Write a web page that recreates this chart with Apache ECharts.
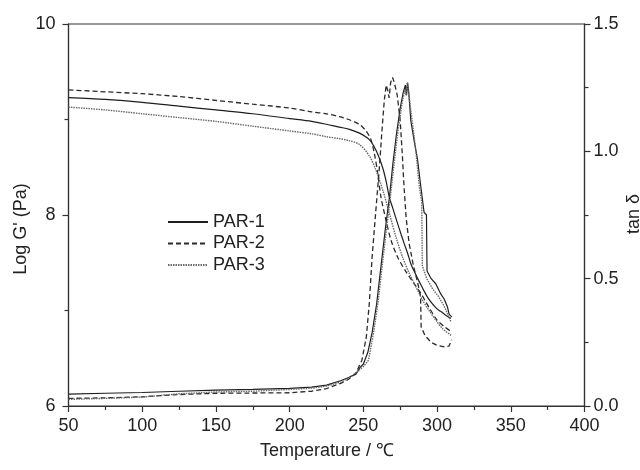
<!DOCTYPE html>
<html>
<head>
<meta charset="utf-8">
<script src="https://cdn.jsdelivr.net/npm/echarts@6/dist/echarts.min.js"></script>
<style>html,body{margin:0;padding:0;background:#fff;}#c{width:640px;height:470px;}</style>
</head>
<body>
<div id="c"></div>
<script>
// ---- data ----
const seriesNames = ['PAR-1', 'PAR-2', 'PAR-3'];
const xTicks = [50, 100, 150, 200, 250, 300, 350, 400];

// Storage modulus, log G' (Pa) – left axis
const tempG1 = [50,75,100,125,150,175,200,215,225,233.7,240,247,254,258.5,263,265.5,267.7,270,272,274.5,277.7,280,282.2,284.5,286.7,289,291.3,293.5,295.8,298.5,301.4,303.5,305.9,308,309.5];
const logG1  = [9.23,9.21,9.18,9.14,9.10,9.06,9.01,8.98,8.95,8.92,8.90,8.86,8.79,8.68,8.50,8.35,8.18,8.07,7.97,7.85,7.70,7.60,7.49,7.41,7.34,7.27,7.20,7.14,7.09,7.04,7.00,6.98,6.95,6.93,6.92];

const tempG2 = [50,75,100,125,150,175,200,215,225,233.7,240,247.2,251.8,255.1,257.4,259.7,261.9,265.3,268.7,273.2,278.8,284.5,289,292,295,300,305,309.5];
const logG2  = [9.31,9.29,9.27,9.24,9.20,9.16,9.12,9.08,9.06,9.03,9.00,8.95,8.88,8.79,8.65,8.44,8.19,7.95,7.74,7.56,7.41,7.28,7.18,7.10,7.02,6.90,6.83,6.78];

const tempG3 = [50,75,100,125,150,175,200,215,225,233.7,240,247.2,254,258.5,263,267.6,272.1,276.6,281.1,285.6,290.1,294.6,299.1,303.7,309.5];
const logG3  = [9.13,9.10,9.06,9.02,8.98,8.93,8.88,8.85,8.82,8.80,8.78,8.74,8.62,8.47,8.27,8.02,7.77,7.56,7.39,7.25,7.11,7.00,6.90,6.81,6.74];

// Loss factor tan δ – right axis
const tempT1 = [50,75,100,125,150,175,200,215,225,235,240,245,247.5,250,253,256,259,262,265,267.7,270,272.5,275,277,278.5,279.3,280,280.8,282.2,284.5,286.7,289,291.2,292.8,293.2,296,299.1,302.5,304.8,307,308.2,310];
const tan1   = [0.047,0.050,0.053,0.058,0.062,0.065,0.069,0.074,0.082,0.10,0.112,0.125,0.15,0.165,0.21,0.29,0.40,0.55,0.70,0.82,0.95,1.07,1.17,1.23,1.26,1.22,1.27,1.23,1.12,1.04,0.97,0.86,0.76,0.75,0.53,0.50,0.48,0.44,0.42,0.39,0.36,0.35];

const tempT2 = [50,75,100,125,150,175,200,215,225,235,240,245,249,252,254,256,258.5,260.8,262.6,264.2,265.5,266.5,267.5,268.5,269.8,271,273,275,276.5,277.5,279,281,284,287,288.8,289.2,292,296,300,305,308,310];
const tan2   = [0.030,0.032,0.036,0.045,0.050,0.051,0.052,0.058,0.068,0.09,0.105,0.13,0.18,0.27,0.40,0.59,0.77,0.93,1.08,1.20,1.26,1.24,1.21,1.27,1.29,1.27,1.22,1.12,0.98,0.87,0.74,0.64,0.55,0.48,0.43,0.31,0.275,0.25,0.238,0.232,0.235,0.26];

const tempT3 = [50,75,100,125,150,175,200,215,225,235,240,245,250,253.5,257,260,263,266,268.5,271,273.5,276,278,279,279.8,280.5,282,284,286,288,289.6,290,293,297,301,305,309.5];
const tan3   = [0.026,0.030,0.035,0.048,0.055,0.058,0.065,0.070,0.078,0.095,0.11,0.13,0.155,0.18,0.29,0.41,0.56,0.71,0.83,0.96,1.08,1.18,1.24,1.22,1.27,1.24,1.17,1.08,0.98,0.86,0.80,0.55,0.50,0.46,0.43,0.39,0.33];

// ---- chart ----
const FONT = 'Liberation Sans, Arial, sans-serif';
const styles = [
  {color: '#1e1e1e', width: 1.2, type: 'solid'},
  {color: '#2a2a2a', width: 1.3, type: [5, 3]},
  {color: '#6a6a6a', width: 1.4, type: [1.5, 1]}
];
const pairs = (xs, ys) => xs.map((x, i) => [x, ys[i]]);
const gData = [pairs(tempG1, logG1), pairs(tempG2, logG2), pairs(tempG3, logG3)];
const tData = [pairs(tempT1, tan1), pairs(tempT2, tan2), pairs(tempT3, tan3)];

const series = [];
[gData, tData].forEach((set, k) => {
  set.forEach((d, i) => {
    series.push({
      name: seriesNames[i], type: 'line', yAxisIndex: k, data: d,
      symbol: 'none', showSymbol: false, smooth: k === 0 ? 0.3 : false, animation: false,
      lineStyle: {color: styles[i].color, width: styles[i].width, type: styles[i].type},
      itemStyle: {color: styles[i].color}
    });
  });
});

const axisCommon = {
  axisLine: {show: true, lineStyle: {color: '#333', width: 1.2}},
  axisTick: {show: true, inside: false, length: 6, lineStyle: {color: '#333', width: 1.2}},
  minorTick: {show: true, splitNumber: 2, length: 4, lineStyle: {color: '#333', width: 1.2}},
  splitLine: {show: false},
  axisLabel: {color: '#222', fontSize: 18, fontFamily: FONT}
};

const chart = echarts.init(document.getElementById('c'), null, {renderer: 'canvas'});
chart.setOption({
  backgroundColor: '#fff',
  animation: false,
  grid: {left: 68.5, right: 55.5, top: 24, bottom: 64, show: true, borderColor: '#333', borderWidth: 1.2, backgroundColor: 'transparent'},
  legend: {
    data: seriesNames, orient: 'vertical', left: 162, top: 208,
    itemWidth: 40, itemHeight: 14, itemGap: 3.5,
    itemStyle: {opacity: 0},
    textStyle: {fontSize: 18, color: '#222', fontFamily: FONT}
  },
  xAxis: Object.assign({}, axisCommon, {
    type: 'value', min: xTicks[0], max: xTicks[xTicks.length - 1], interval: 50,
    axisLabel: Object.assign({}, axisCommon.axisLabel, {margin: 11})
  }),
  yAxis: [
    Object.assign({}, axisCommon, {
      type: 'value', position: 'left', min: 6, max: 10, interval: 2,
      axisLabel: Object.assign({}, axisCommon.axisLabel, {margin: 13})
    }),
    Object.assign({}, axisCommon, {
      type: 'value', position: 'right', min: 0, max: 1.5, interval: 0.5,
      axisLabel: Object.assign({}, axisCommon.axisLabel, {margin: 9, formatter: v => v.toFixed(1)})
    })
  ],
  graphic: [
    {type: 'text', x: 327, y: 451, style: {text: 'Temperature / \u2103', font: '18px ' + FONT, fill: '#222', align: 'center', verticalAlign: 'middle'}},
    {type: 'text', x: 21, y: 229, rotation: Math.PI / 2, style: {text: "Log G' (Pa)", font: '18px ' + FONT, fill: '#222', align: 'center', verticalAlign: 'middle'}},
    {type: 'text', x: 634, y: 214, rotation: Math.PI / 2, style: {text: 'tan \u03b4', font: '18px ' + FONT, fill: '#222', align: 'center', verticalAlign: 'middle'}}
  ],
  series: series
});
</script>
</body>
</html>
